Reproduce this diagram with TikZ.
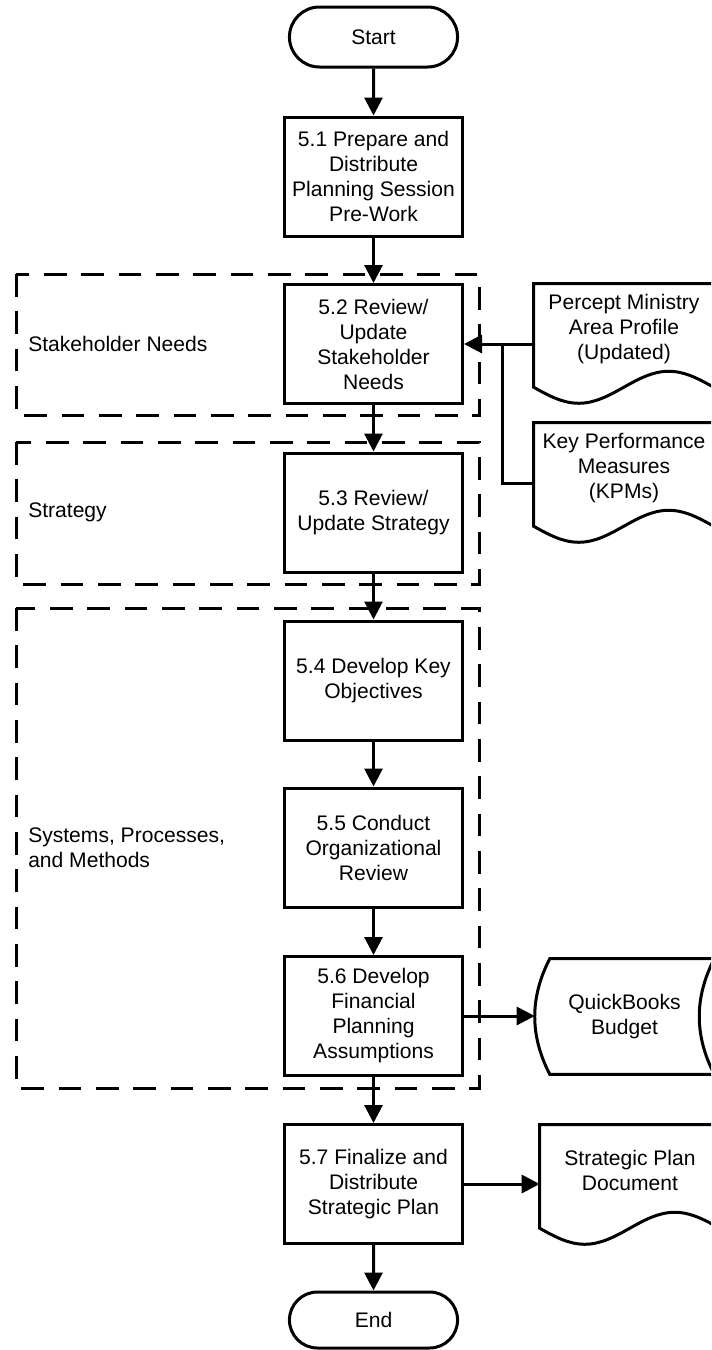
\documentclass[tikz,border=0pt]{standalone}
\usepackage{fontspec}
\setmainfont{Liberation Sans}
\usetikzlibrary{arrows.meta, calc, shapes.misc}
\tikzset{
  heavy/.style={line width=2.25pt},
  flow/.style={heavy, -{Triangle[length=13.5pt,width=13.5pt]}},
  term/.style={draw, heavy, rounded rectangle, minimum width=132.75pt, minimum height=45pt},
  proc/.style={draw, heavy, minimum width=133.5pt, minimum height=89.25pt, align=center, inner sep=2pt},
  doc/.style={minimum width=135pt, minimum height=67.5pt, align=center, inner sep=0pt},
  store/.style={minimum width=134.25pt, minimum height=86.25pt, align=center, inner sep=0pt},
  group/.style={heavy, dash pattern=on 17pt off 11pt},
  lbl/.style={right, align=left, inner sep=0pt}
}

\begin{document}
\begin{tikzpicture}[x=0.75pt, y=-0.75pt, font=\fontsize{15.8}{18.75}\selectfont]
  \useasboundingbox (0,0) rectangle (711,1350);
  \fill[white] (0,0) rectangle (711,1350);
  \clip (0,0) rectangle (711,1350);

  \draw[group] (16,274) rectangle (479,415);
  \draw[group] (16,442) rectangle (479,584);
  \draw[group] (16,608) rectangle (479,1088);
  \node[lbl] (gstake) at (28,344) {Stakeholder Needs};
  \node[lbl] (gstrat) at (28,512) {Strategy};
  \node[lbl] (gsys) at (28,847.5) {Systems, Processes,\\and Methods};

  \node[term] (start) at (373.5,37) {Start};
  \node[proc] (s51) at (373.5,176.5) {5.1 Prepare and\\Distribute\\Planning Session\\Pre-Work};
  \node[proc] (s52) at (373.5,344) {5.2 Review/\\Update\\Stakeholder\\Needs};
  \node[proc] (s53) at (373.5,512.5) {5.3 Review/\\Update Strategy};
  \node[proc] (s54) at (373.5,680.5) {5.4 Develop Key\\Objectives};
  \node[proc] (s55) at (373.5,847.5) {5.5 Conduct\\Organizational\\Review};
  \node[proc] (s56) at (373.5,1016) {5.6 Develop\\Financial\\Planning\\Assumptions};
  \node[proc] (s57) at (373.5,1184) {5.7 Finalize and\\Distribute\\Strategic Plan};
  \node[term, minimum height=42pt] (end) at (373.5,1320) {End};

  \node[doc] (ppm) at (624,329) {Percept Ministry\\Area Profile\\(Updated)};
  \node[doc] (kpm) at (624,468) {Key Performance\\Measures\\(KPMs)};
  \node[doc] (spd) at (630,1170) {Strategic Plan\\Document};
  \node[store] (qb) at (624.5,1016.5) {QuickBooks\\Budget};

  \foreach \d in {ppm,kpm,spd}
    \draw[heavy] ($(\d.south west)+(0,13)$) sin ++(45,16) cos ++(45,-16)
      sin ++(45,-16) cos ++(45,16) -- (\d.north east) -- (\d.north west) -- cycle;
  \draw[heavy] ($(qb.north west)+(15,0)$) -- (qb.north east)
    .. controls ($(qb.east)+(-20,-19)$) and ($(qb.east)+(-20,19)$) .. (qb.south east)
    -- ($(qb.south west)+(15,0)$)
    .. controls ($(qb.west)+(-5,19)$) and ($(qb.west)+(-5,-19)$) .. cycle;

  \draw[flow] (start) -- (s51);
  \draw[flow] (s51) -- (s52);
  \draw[flow] (s52) -- (s53);
  \draw[flow] (s53) -- (s54);
  \draw[flow] (s54) -- (s55);
  \draw[flow] (s55) -- (s56);
  \draw[flow] (s56) -- (s57);
  \draw[flow] (s57) -- (end);

  \coordinate (tee) at ($(s52.east -| ppm.west)+(-31,0)$);
  \draw[flow] (s52.east -| ppm.west) -- (s52.east);
  \draw[heavy] ($(kpm.west)+(0,15)$) -| (tee);
  \draw[flow] (s56.east) -- (s56.east -| qb.west);
  \draw[flow] (s57.east) -- (s57.east -| spd.west);
\end{tikzpicture}
\end{document}
